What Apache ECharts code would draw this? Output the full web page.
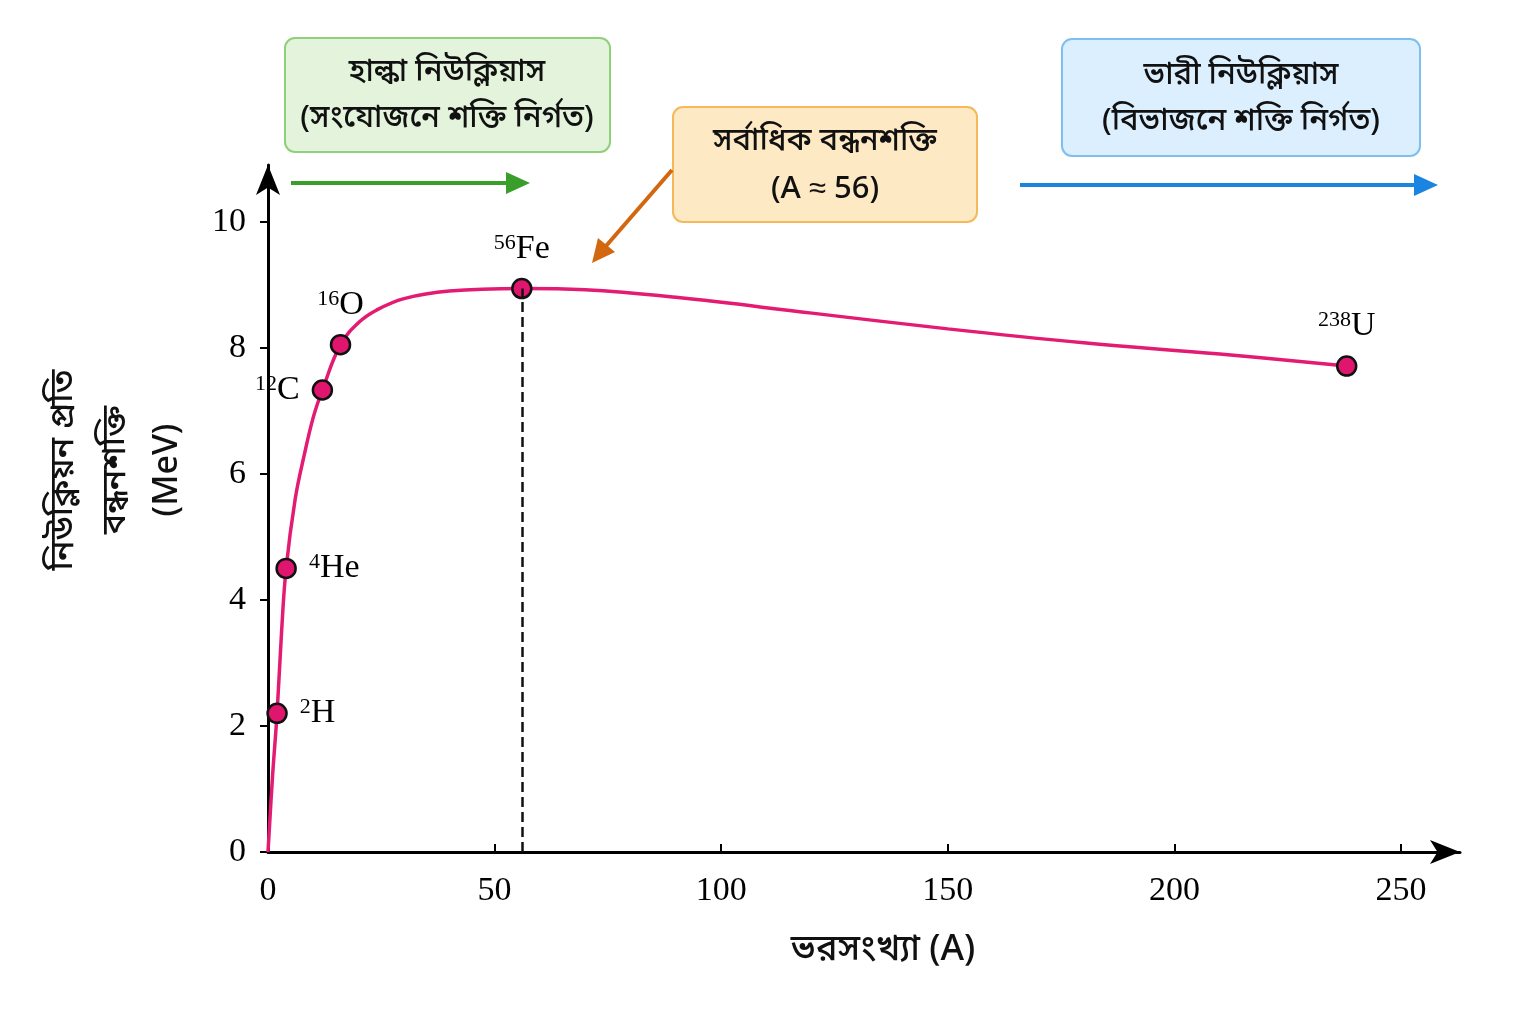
<!DOCTYPE html>
<html><head><meta charset="utf-8">
<script src="https://cdn.jsdelivr.net/npm/echarts@6/dist/echarts.min.js"></script>
<style>html,body{margin:0;padding:0;background:#fff}#c{width:1536px;height:1024px}</style>
</head><body><div id="c"></div>
<script>
const curveA = [0, 1, 2, 3, 4, 6, 8, 10, 12, 16, 20, 24, 30, 40, 56, 70, 90, 120, 150, 180, 210, 238];
const curveE = [0, 1.2, 2.2, 3.5, 4.5, 5.6, 6.3, 6.9, 7.33, 8.05, 8.4, 8.6, 8.78, 8.9, 8.94, 8.92, 8.8, 8.55, 8.3, 8.08, 7.9, 7.71];
const nucA = [2, 4, 12, 16, 56, 238];
const nucE = [2.2, 4.5, 7.33, 8.05, 8.94, 7.71];
const nucSup = ['2', '4', '12', '16', '56', '238'];
const nucSym = ['H', 'He', 'C', 'O', 'Fe', 'U'];
const nucPos = ['right', 'right', 'left', 'top', 'top', 'top'];
const xTicks = [0, 50, 100, 150, 200, 250];

const serif = '"Liberation Serif","DejaVu Serif",serif';
const beng = '"Noto Sans","Noto Sans Bengali",sans-serif';
const chart = echarts.init(document.getElementById('c'));
const rich = {sup:{fontSize:22,fontFamily:serif,color:'#000',verticalAlign:'top',padding:[0,0,12,0]}, n:{fontSize:34,fontFamily:serif,color:'#000'}};
chart.setOption({
  backgroundColor:'#fff',
  grid:{left:268,right:76,top:165,bottom:172},
  xAxis:{type:'value',min:0,max:263,interval:50,
    axisLine:{lineStyle:{color:'#000',width:3},symbol:['none','arrow'],symbolSize:[18,30]},
    axisTick:{inside:true,length:8,lineStyle:{color:'#000',width:2}},
    axisLabel:{fontSize:34,fontFamily:serif,color:'#000',margin:22,showMaxLabel:false,
      formatter:v=>xTicks.includes(v)?String(v):''},
    splitLine:{show:false}},
  yAxis:{type:'value',min:0,max:10.9,interval:2,
    axisLine:{show:true,lineStyle:{color:'#000',width:3},symbol:['none','arrow'],symbolSize:[18,30]},
    axisTick:{show:true,length:8,lineStyle:{color:'#000',width:2}},
    axisLabel:{fontSize:34,fontFamily:serif,color:'#000',margin:22,showMaxLabel:false},
    splitLine:{show:false}},
  series:[
    {type:'line',smooth:0.4,showSymbol:false,data:curveA.map((a,i)=>[a,curveE[i]]),
     lineStyle:{color:'#e31b73',width:3.5},z:2,
     markLine:{symbol:'none',silent:true,label:{show:false},lineStyle:{color:'#111',type:'dashed',width:2.5},
       data:[[{coord:[56,0]},{coord:[56,8.94]}]]}},
    {type:'scatter',symbolSize:19,z:3,
     itemStyle:{color:'#e0156e',borderColor:'#111',borderWidth:2.5,opacity:1},
     data:nucA.map((a,i)=>({value:[a,nucE[i]],label:{show:true,position:nucPos[i],distance:12,color:'#000',
       formatter:'{sup|'+nucSup[i]+'}{n|'+nucSym[i]+'}',rich:rich}}))}
  ],
  graphic:[
    {type:'rect',shape:{x:285,y:38,width:325,height:114,r:10},style:{fill:'#e4f3dc',stroke:'#8fd07a',lineWidth:2}},
    {type:'text',x:447,y:95,style:{text:'হাল্কা নিউক্লিয়াস\n(সংযোজনে শক্তি নির্গত)',font:'500 31px '+beng,fill:'#111',align:'center',verticalAlign:'middle',lineHeight:46}},
    {type:'rect',shape:{x:673,y:107,width:304,height:115,r:10},style:{fill:'#fde9c4',stroke:'#f5b95a',lineWidth:2}},
    {type:'text',x:825,y:165,style:{text:'সর্বাধিক বন্ধনশক্তি\n(A ≈ 56)',font:'500 31px '+beng,fill:'#111',align:'center',verticalAlign:'middle',lineHeight:48}},
    {type:'rect',shape:{x:1062,y:39,width:358,height:117,r:10},style:{fill:'#dcefff',stroke:'#7cc0f0',lineWidth:2}},
    {type:'text',x:1241,y:98,style:{text:'ভারী নিউক্লিয়াস\n(বিভাজনে শক্তি নির্গত)',font:'500 31px '+beng,fill:'#111',align:'center',verticalAlign:'middle',lineHeight:46}},
    {type:'line',shape:{x1:291,y1:183,x2:510,y2:183},style:{stroke:'#3a9e2a',lineWidth:4}},
    {type:'polygon',shape:{points:[[530,183],[506,172],[506,194]]},style:{fill:'#3a9e2a'}},
    {type:'line',shape:{x1:1020,y1:185,x2:1418,y2:185},style:{stroke:'#1a85e0',lineWidth:4}},
    {type:'polygon',shape:{points:[[1438,185],[1414,174],[1414,196]]},style:{fill:'#1a85e0'}},
    {type:'line',shape:{x1:672,y1:170,x2:606,y2:246},style:{stroke:'#d2670f',lineWidth:4}},
    {type:'polygon',shape:{points:[[592,263],[598,238],[615,252]]},style:{fill:'#d2670f'}},
    {type:'text',x:115,y:470,rotation:Math.PI/2,style:{text:'নিউক্লিয়ন প্রতি\nবন্ধনশক্তি\n(MeV)',font:'500 34px '+beng,fill:'#111',align:'center',verticalAlign:'middle',lineHeight:52}},
    {type:'text',x:883,y:950,style:{text:'ভরসংখ্যা (A)',font:'500 36px '+beng,fill:'#111',align:'center',verticalAlign:'middle'}}
  ]
});
</script></body></html>
